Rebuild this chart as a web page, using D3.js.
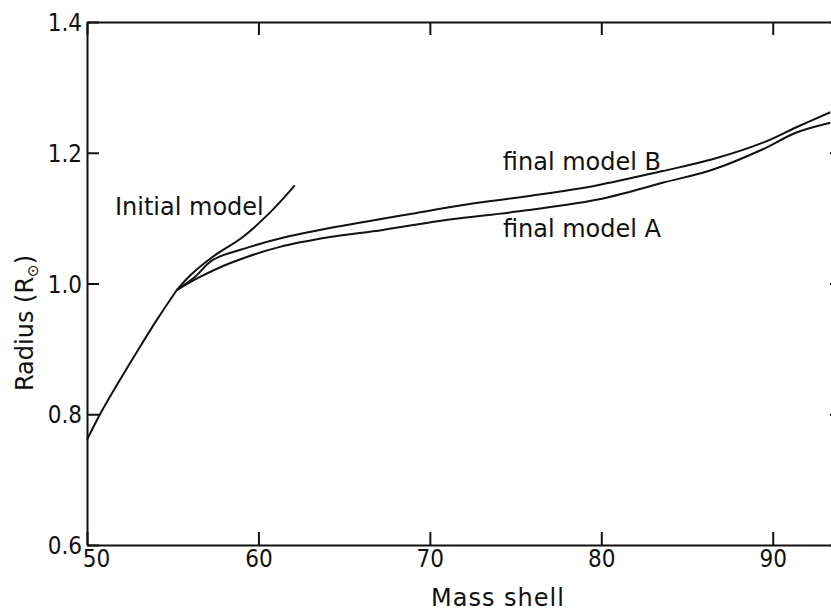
<!DOCTYPE html>
<meta charset="utf-8">
<style>
  body { margin: 0; background: #fff; }
  .lbl { font-family: "DejaVu Sans", sans-serif; font-size: 24px; fill: #111; }
  .num { font-family: "Liberation Sans Narrow", "DejaVu Sans Condensed", "Liberation Sans", sans-serif; font-size: 24px; fill: #111; }
</style>
<body>
<script src="https://d3js.org/d3.v7.min.js"></script>
<script>

var width = 831,
    height = 613;

// shared part of all curves (mass shell, radius)
var commonShell  = [50.00, 50.76, 51.75, 52.97, 54.14, 55.24];
var commonRadius = [0.761, 0.800, 0.845, 0.898, 0.947, 0.990];

var initialShell  = [55.24, 56.00, 57.34, 59.09, 60.84, 62.12];
var initialRadius = [0.990, 1.012, 1.041, 1.071, 1.113, 1.150];

var finalBShell  = [55.24, 56.29, 57.34, 59.50, 61.42, 64.16, 66.32, 69.23, 72.14, 75.82, 79.72, 83.57, 86.48, 89.39, 91.38, 93.36];
var finalBRadius = [0.990, 1.010, 1.036, 1.056, 1.070, 1.085, 1.095, 1.108, 1.121, 1.134, 1.150, 1.172, 1.190, 1.215, 1.239, 1.262];

var finalAShell  = [55.24, 56.59, 58.33, 61.25, 64.16, 67.25, 71.15, 75.06, 79.72, 83.57, 86.48, 89.39, 91.38, 93.36];
var finalARadius = [0.990, 1.010, 1.031, 1.056, 1.071, 1.082, 1.098, 1.110, 1.128, 1.154, 1.174, 1.205, 1.231, 1.246];

var xTicks = [50, 60, 70, 80, 90];
var yTicks = [0.6, 0.8, 1.0, 1.2, 1.4];

var x = d3.scaleLinear().domain([50, 94.1]).range([87, 843]);
var y = d3.scaleLinear().domain([0.6, 1.4]).range([545, 22]);

var svg = d3.select("body").append("svg")
    .attr("width", width)
    .attr("height", height);

function zip(xs, ys) {
  return xs.map(function(d, i) { return [d, ys[i]]; });
}

// frame with inward ticks
var gB = svg.append("g").attr("transform", "translate(0," + y(0.6) + ")")
  .call(d3.axisBottom(x).tickValues(xTicks).tickSize(-13).tickSizeOuter(0).tickPadding(8));
var gT = svg.append("g").attr("transform", "translate(0," + y(1.4) + ")")
  .call(d3.axisTop(x).tickValues(xTicks).tickSize(-13).tickSizeOuter(0).tickFormat(""));
var gL = svg.append("g").attr("transform", "translate(" + x(50) + ",0)")
  .call(d3.axisLeft(y).tickValues(yTicks).tickSize(-12).tickSizeOuter(0).tickPadding(5).tickFormat(d3.format(".1f")));
var gR = svg.append("g").attr("transform", "translate(" + x(94.1) + ",0)")
  .call(d3.axisRight(y).tickValues(yTicks).tickSize(-13).tickSizeOuter(0).tickFormat(""));

[gB, gT, gL, gR].forEach(function(g) {
  g.select(".domain").attr("stroke", "#111").attr("stroke-width", 2);
  g.selectAll(".tick line").attr("stroke", "#111").attr("stroke-width", 2);
  g.selectAll(".tick text").attr("class", "num").attr("fill", "#111").style("font-size", "24px");
});
gB.selectAll(".tick text").attr("dy", "0.6em")
  .attr("dx", function(d) { return d == 50 ? 9 : 0; });
gL.selectAll(".tick text").attr("dy", "0.36em");

var line = d3.line()
    .x(function(d) { return x(d[0]); })
    .y(function(d) { return y(d[1]); })
    .curve(d3.curveCatmullRom.alpha(0.5));

var curves = [
  zip(commonShell, commonRadius),
  zip(initialShell, initialRadius),
  zip(finalBShell, finalBRadius),
  zip(finalAShell, finalARadius)
];

svg.append("g").selectAll("path")
    .data(curves)
  .enter().append("path")
    .attr("d", line)
    .attr("fill", "none")
    .attr("stroke", "#111")
    .attr("stroke-width", 2)
    .attr("stroke-linejoin", "round");

// curve labels
svg.append("text").attr("class", "lbl").attr("x", 115).attr("y", 215).text("Initial model");
svg.append("text").attr("class", "lbl").attr("x", 661).attr("y", 170)
  .attr("text-anchor", "end").text("final model B");
svg.append("text").attr("class", "lbl").attr("x", 661).attr("y", 237)
  .attr("text-anchor", "end").text("final model A");

// axis titles
svg.append("text").attr("class", "lbl")
  .attr("x", 498).attr("y", 606)
  .attr("text-anchor", "middle")
  .style("letter-spacing", "1px")
  .text("Mass shell");

var yt = svg.append("text").attr("class", "lbl")
  .attr("transform", "translate(33,323) rotate(-90)")
  .attr("text-anchor", "middle");
yt.append("tspan").text("Radius (R");
yt.append("tspan").attr("dy", 5).style("font-size", "15px").text("\u2299");
yt.append("tspan").attr("dy", -5).text(")");

</script>
</body>
